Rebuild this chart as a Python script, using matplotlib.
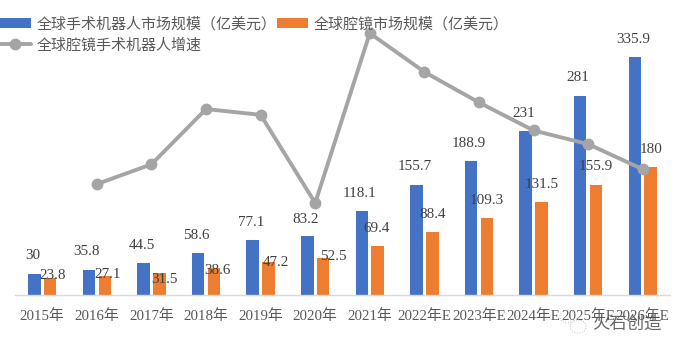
import matplotlib
matplotlib.use('Agg')
import matplotlib.pyplot as plt
from matplotlib.patches import Ellipse
import numpy as np

years = ['2015年', '2016年', '2017年', '2018年', '2019年', '2020年', '2021年',
         '2022年E', '2023年E', '2024年E', '2025年E', '2026年E']
robot = [30, 35.8, 44.5, 58.6, 77.1, 83.2, 118.1, 155.7, 188.9, 231, 281, 335.9]
scope = [23.8, 27.1, 31.5, 38.6, 47.2, 52.5, 69.4, 88.4, 109.3, 131.5, 155.9, 180]
# 增速从图上读的，2015年没有
growth = [None, 13.9, 16.3, 23.0, 22.3, 11.6, 32.2, 27.5, 23.8, 20.4, 18.75, 15.7]

# 数据标签相对柱顶中心的偏移（像素）
robot_off = [(-2, 18), (-2, 18), (-2, 18), (-2, 18), (-2, 18), (-2, 17),
             (-2, 18), (-2, 18), (-2, 18), (-2, 18), (-2, 18), (-2, 17)]
scope_off = [(2, 3), (3, 1), (5, -7), (3, -3), (7, -1), (10, 1),
             (-1, 17), (0, 18), (0, 17), (0, 17), (0, 18), (0, 18)]

W, H = 681, 352
serif = ['Liberation Serif', 'Noto Sans CJK SC']
cjk = ['Noto Sans CJK SC', 'DejaVu Sans']
blue, orange, gray = '#4472C4', '#ED7D31', '#A5A5A5'

fig = plt.figure(figsize=(W / 100, H / 100), dpi=100)
# 坐标轴区域：x 15-670，y 20-295 像素
ax = fig.add_axes([15 / W, 1 - 295 / H, 655 / W, 275 / H])
x = np.arange(len(years))
bw = 0.23
b1 = ax.bar(x - 0.145, robot, bw, color=blue, label='全球手术机器人市场规模（亿美元）')
b2 = ax.bar(x + 0.145, scope, bw, color=orange, label='全球腔镜市场规模（亿美元）')
ax.set_xlim(-0.5, len(years) - 0.5)
ax.set_ylim(0, 388)
ax.set_yticks([])
ax.set_xticks(x)
ax.set_xticklabels(years, family=serif, fontsize=10.7, color='#595959')
ax.tick_params(axis='x', length=0, pad=10)
for s in ['top', 'left', 'right']:
    ax.spines[s].set_visible(False)
ax.spines['bottom'].set_color('#D9D9D9')
ax.spines['bottom'].set_linewidth(1)

ax2 = ax.twinx()
ax2.set_ylim(0.45, 33.8)
ax2.axis('off')
gx = [i for i, g in zip(x, growth) if g is not None]
gy = [g for g in growth if g is not None]
line, = ax2.plot(gx, gy, color=gray, lw=2.8, marker='o', ms=7.5,
                 label='全球腔镜手术机器人增速', solid_capstyle='round')

# 数据标签
for i in x:
    ax2.annotate(str(robot[i]), (i - 0.145, robot[i] / 388 * 33.35 + 0.45),
                 xytext=(robot_off[i][0] * 0.72, robot_off[i][1] * 0.72),
                 textcoords='offset points', ha='center', va='center',
                 family='Liberation Serif', fontsize=10.9, color='#404040')
    ax2.annotate(str(scope[i]), (i + 0.145, scope[i] / 388 * 33.35 + 0.45),
                 xytext=(scope_off[i][0] * 0.72, scope_off[i][1] * 0.72),
                 textcoords='offset points', ha='center', va='center',
                 family='Liberation Serif', fontsize=10.9, color='#404040')

leg = fig.legend(handles=[b1, line, b2], ncols=2, prop={'family': cjk, 'size': 10.8},
                 loc='upper left', bbox_to_anchor=(0, 1 - 16.5 / H), borderaxespad=0,
                 borderpad=0, frameon=False, handlelength=2.05, handleheight=0.7,
                 handletextpad=0.4, columnspacing=0, labelspacing=0.47)
for t in leg.get_texts():
    t.set_color('#595959')

# 右下角水印
fig.text(626.5 / W, 1 - 324 / H, '火石创造', family=cjk, fontsize=12.5, color='#4d4d4d',
         ha='center', va='center', alpha=0.85)
wm = fig.add_axes([0, 0, 1, 1], facecolor='none')
wm.set_xlim(0, W)
wm.set_ylim(H, 0)
wm.axis('off')
wm.add_patch(Ellipse((567.5, 316.5), 15, 13, fc='none', ec='#bbbbbb', lw=0.7, ls=':'))
wm.add_patch(Ellipse((578, 326.5), 16, 13, fc='none', ec='#bbbbbb', lw=0.7, ls=':'))

fig.savefig('out.png', dpi=100)
